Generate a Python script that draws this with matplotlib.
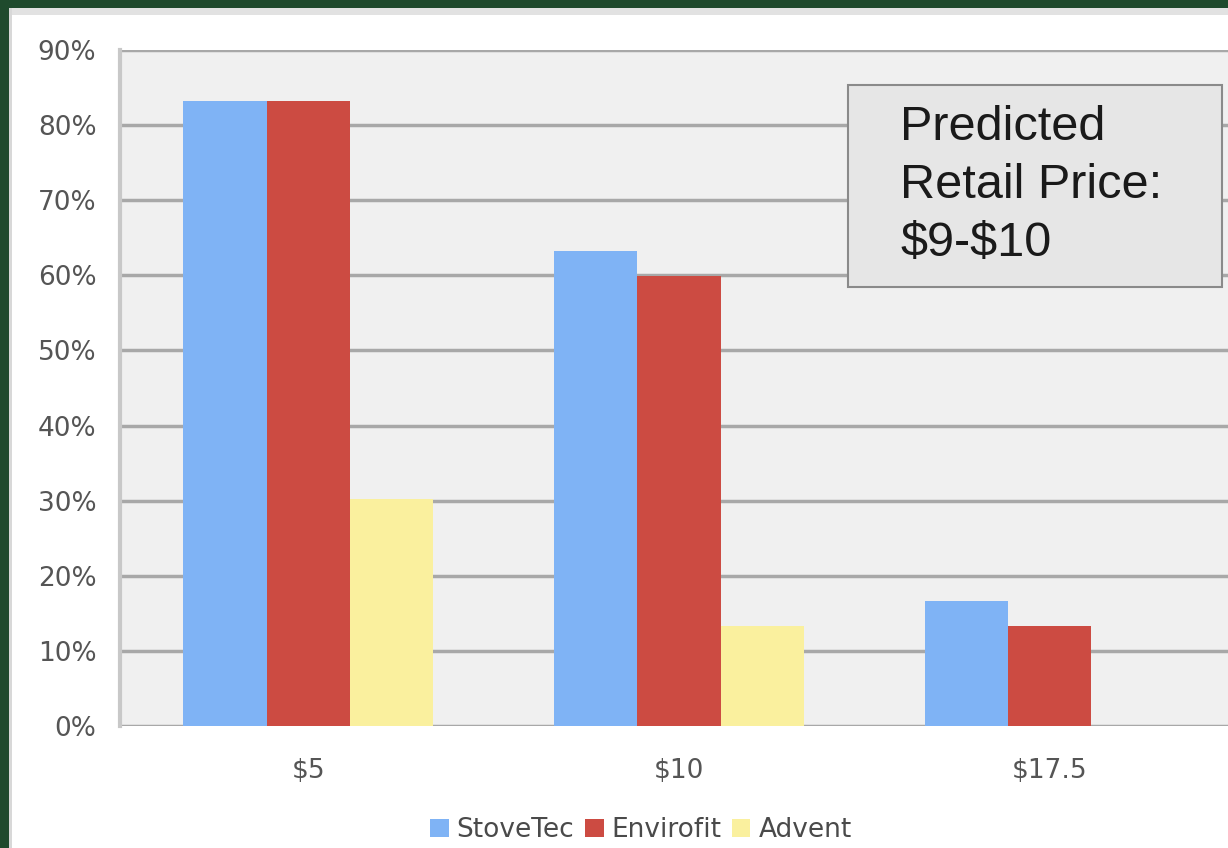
import matplotlib.pyplot as plt
import numpy as np
from matplotlib.patches import Rectangle

# Daten
prices = ['$5', '$10', '$17.5']
stovetec = [83.2, 63.2, 16.6]
envirofit = [83.2, 59.9, 13.3]
advent = [30.2, 13.3, 0.0]
series_names = ['StoveTec', 'Envirofit', 'Advent']
colors = ['#7fb3f5', '#cc4b42', '#faf09e']

fig = plt.figure(figsize=(12.28, 8.48), dpi=100)
fig.patch.set_facecolor('#1f4a2d')

# weisser Hintergrund mit grauem Rand
W, H = 1228, 848
fig.patches.append(Rectangle((9 / W, 0), 1, 1 - 8 / H, transform=fig.transFigure,
                             facecolor='white', edgecolor='none', zorder=-2))
fig.patches.append(Rectangle((9 / W, 1 - 15 / H), 1, 7 / H, transform=fig.transFigure,
                             facecolor='#e2e2e2', edgecolor='none', zorder=-1))
fig.patches.append(Rectangle((9 / W, 0), 3 / W, 1 - 8 / H, transform=fig.transFigure,
                             facecolor='#d8d8d8', edgecolor='none', zorder=-1))

ax = fig.add_axes([120 / W, 122 / H, 1118 / W, 676 / H])
ax.set_facecolor('#f0f0f0')

x = np.arange(len(prices))
width = 0.224
for i, (vals, c) in enumerate(zip([stovetec, envirofit, advent], colors)):
    ax.bar(x + (i - 1) * width, vals, width, color=c, label=series_names[i], zorder=3)

ax.set_xlim(-0.507, 2.507)
ax.set_ylim(0, 90)
ax.set_yticks(np.arange(0, 91, 10))
ax.set_yticklabels([f'{v}%' for v in range(0, 91, 10)])
ax.set_xticks(x)
ax.set_xticklabels(prices)
ax.yaxis.grid(True, color='#a8a8a8', linewidth=2.5, zorder=1)
ax.tick_params(axis='y', length=0, pad=17, labelsize=19, labelcolor='#555555')
ax.tick_params(axis='x', length=0, pad=23, labelsize=19, labelcolor='#555555')
for s in ['right', 'bottom', 'top']:
    ax.spines[s].set_visible(False)
ax.spines['left'].set_color('#c8c8c8')
ax.spines['left'].set_linewidth(3)

# Kasten mit Preisangabe
ax.add_patch(Rectangle((0.651, 0.649), 0.3345, 0.299, transform=ax.transAxes,
                       facecolor='#e6e6e6', edgecolor='#8a8a8a', linewidth=1.5,
                       zorder=5, clip_on=False))
ax.text(0.698, 0.918, 'Predicted\nRetail Price:\n\\$9-\\$10', transform=ax.transAxes,
        fontsize=35, family='Liberation Sans', color='#1a1a1a', va='top', ha='left',
        linespacing=1.37, zorder=6)

fig.legend(loc='center', bbox_to_anchor=(641 / W, 1 - 830 / H), ncol=3, frameon=False,
           fontsize=19, handlelength=0.7, handleheight=0.7, handletextpad=0.3,
           columnspacing=0.4, labelcolor='#4a4a4a')

plt.savefig('out.png', dpi=100, facecolor=fig.get_facecolor())
